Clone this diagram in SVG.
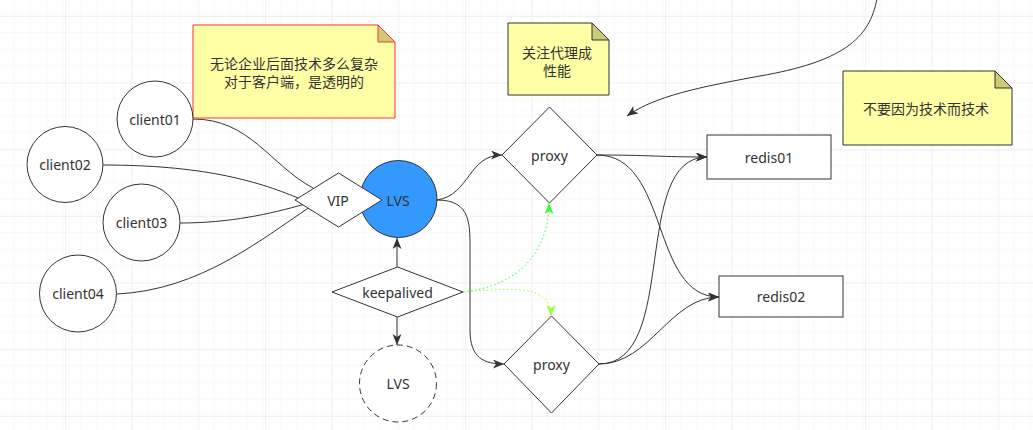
<svg xmlns="http://www.w3.org/2000/svg" width="1033" height="430" viewBox="0 0 1033 430">
<defs>
<pattern id="minor" patternUnits="userSpaceOnUse" x="-1.67" y="16" width="16.667" height="16.667">
<path d="M0,0 H16.667 M0,0 V16.667" fill="none" stroke="#f3f3f3" stroke-width="1"/>
</pattern>
<pattern id="major" patternUnits="userSpaceOnUse" x="-1.67" y="16" width="66.667" height="66.667">
<rect width="66.667" height="66.667" fill="url(#minor)"/>
<path d="M0,0 H66.667 M0,0 V66.667" fill="none" stroke="#e6e6e6" stroke-width="1"/>
</pattern>
<marker id="arr" markerUnits="userSpaceOnUse" markerWidth="12" markerHeight="10" refX="11" refY="4.5" orient="auto">
<path d="M0,0 L11,4.5 L0,9 L3,4.5 Z" fill="#333333"/>
</marker>
<marker id="arrG1" markerUnits="userSpaceOnUse" markerWidth="12" markerHeight="10" refX="11" refY="4.5" orient="auto">
<path d="M0,0 L11,4.5 L0,9 L3,4.5 Z" fill="#33FF33"/>
</marker>
<marker id="arrG2" markerUnits="userSpaceOnUse" markerWidth="12" markerHeight="10" refX="11" refY="4.5" orient="auto">
<path d="M0,0 L11,4.5 L0,9 L3,4.5 Z" fill="#99FF33"/>
</marker>
</defs>
<style>
.shape{fill:#ffffff;stroke:#333333;stroke-width:1}
.lbl{font-family:"Noto Sans","Noto Sans CJK SC",sans-serif;font-size:14px;fill:#333333;text-anchor:middle;dominant-baseline:central}
.edge{fill:none;stroke:#333333;stroke-width:1}
.note{fill:#FFFFA6;stroke:#333333;stroke-width:1}
.fold{fill:#CCCC77;stroke:#333333;stroke-width:1}
</style>
<rect width="1033" height="430" fill="#ffffff"/>
<rect width="1033" height="430" fill="url(#major)"/>

<g id="connectors">
<path class="edge" d="M193,119 C250,119 270,165 313,188"/>
<path class="edge" d="M103,165 C200,165 255,180 298,198"/>
<path class="edge" d="M180,223 C230,223 270,214 305,204"/>
<path class="edge" d="M117,294 C200,290 260,240 310,207"/>
<path class="edge" d="M437,200 C470,195 468,155 502,155" marker-end="url(#arr)"/>
<path class="edge" d="M437,200 C472,200 470,225 470,255 L470,330 C470,358 484,364 504,364" marker-end="url(#arr)"/>
<path class="edge" d="M397,267 L397,238" marker-end="url(#arr)"/>
<path class="edge" d="M397,317 L397,345" marker-end="url(#arr)"/>
<path d="M463,292 C520,286 549,250 549,203" fill="none" stroke="#33FF33" stroke-width="1" stroke-dasharray="1.5,2.5" marker-end="url(#arrG1)"/>
<path d="M463,292 C505,289 551,282 551,316" fill="none" stroke="#99FF33" stroke-width="1" stroke-dasharray="1.5,2.5" marker-end="url(#arrG2)"/>
<path class="edge" d="M597,155 C650,155 660,157 707,157" marker-end="url(#arr)"/>
<path class="edge" d="M597,155 C670,155 650,297 719,297" marker-end="url(#arr)"/>
<path class="edge" d="M599,364 C680,364 630,157 707,157" marker-end="url(#arr)"/>
<path class="edge" d="M599,364 C650,364 670,297 719,297" marker-end="url(#arr)"/>
<path class="edge" d="M877,-2 C870,40 840,62 760,76 C700,87 655,96 627,116" marker-end="url(#arr)"/>
</g>

<g id="note1">
<path d="M193,25 H378 L395,42 V118 H193 Z" fill="#FFFFA6" stroke="#FF3333" stroke-width="1"/>
<path d="M378,25 V42 H395 Z" fill="#CCCC77" stroke="#FF3333" stroke-width="1"/>
<text class="lbl" x="294" y="63">无论企业后面技术多么复杂</text>
<text class="lbl" x="294" y="81">对于客户端，是透明的</text>
</g>

<g id="client01">
<circle class="shape" cx="155" cy="119" r="38"/>
<text class="lbl" x="155" y="119">client01</text>
</g>
<g id="client02">
<circle class="shape" cx="65" cy="164.5" r="38"/>
<text class="lbl" x="65" y="164.5">client02</text>
</g>
<g id="client03">
<circle class="shape" cx="141.5" cy="222.5" r="38.5"/>
<text class="lbl" x="141.5" y="222.5">client03</text>
</g>
<g id="client04">
<circle class="shape" cx="78" cy="293.5" r="38.5"/>
<text class="lbl" x="78" y="293.5">client04</text>
</g>

<g id="lvs">
<circle cx="398.5" cy="199" r="38.5" fill="#3399FF" stroke="#333333" stroke-width="1"/>
<text class="lbl" x="398" y="200">LVS</text>
</g>
<g id="vip">
<path class="shape" d="M338.5,173 L382,200 L338.5,227 L295,200 Z"/>
<text class="lbl" x="338" y="200">VIP</text>
</g>

<g id="keepalived">
<path class="shape" d="M397.5,267 L463,292 L397.5,317 L332,292 Z"/>
<text class="lbl" x="397.5" y="292">keepalived</text>
</g>

<g id="lvs-backup">
<circle cx="398" cy="383.5" r="38.5" fill="#ffffff" stroke="#333333" stroke-width="1" stroke-dasharray="6,4"/>
<text class="lbl" x="398" y="383.5">LVS</text>
</g>

<g id="proxy1">
<path class="shape" d="M549.5,107 L597,155 L549.5,203 L502,155 Z"/>
<text class="lbl" x="549.5" y="155">proxy</text>
</g>
<g id="proxy2">
<path class="shape" d="M551.5,316 L599,364 L551.5,413 L504,364 Z"/>
<text class="lbl" x="551.5" y="364">proxy</text>
</g>

<g id="redis01">
<rect class="shape" x="707" y="135" width="124" height="44"/>
<text class="lbl" x="769" y="157">redis01</text>
</g>
<g id="redis02">
<rect class="shape" x="719" y="276" width="124" height="41"/>
<text class="lbl" x="781" y="296.5">redis02</text>
</g>

<g id="note2">
<path class="note" d="M508,23 H592 L609,40 V95 H508 Z"/>
<path class="fold" d="M592,23 V40 H609 Z"/>
<text class="lbl" x="557" y="52">关注代理成</text>
<text class="lbl" x="557" y="70">性能</text>
</g>

<g id="note3">
<path class="note" d="M843,71 H995 L1012,88 V145 H843 Z"/>
<path class="fold" d="M995,71 V88 H1012 Z"/>
<text class="lbl" x="926" y="108">不要因为技术而技术</text>
</g>
</svg>
